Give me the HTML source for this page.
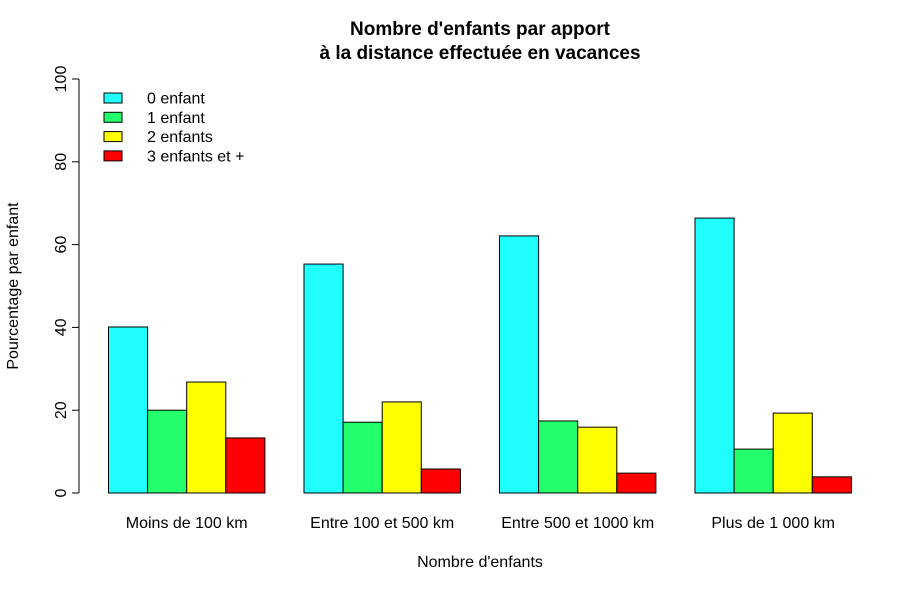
<!DOCTYPE html>
<html><head><meta charset="utf-8"><style>
body{margin:0;background:#fff}
svg{font-family:"Liberation Sans",Arial,sans-serif}
</style></head><body>
<svg id="chart" width="922" height="591" xmlns="http://www.w3.org/2000/svg">
<text x="480" y="35" text-anchor="middle" font-size="19" font-weight="bold">Nombre d'enfants par apport</text>
<text x="480" y="59" text-anchor="middle" font-size="19" font-weight="bold">à la distance effectuée en vacances</text>
<text x="480" y="567" text-anchor="middle" font-size="16">Nombre d'enfants</text>
<text transform="translate(18,286) rotate(-90)" text-anchor="middle" font-size="16">Pourcentage par enfant</text>
<g id="axis"></g>
<g id="bars"></g>
<g id="xlabels"></g>
<g id="legend"></g>
</svg>
<script>
const categories=["Moins de 100 km","Entre 100 et 500 km","Entre 500 et 1000 km","Plus de 1 000 km"];
const seriesNames=["0 enfant","1 enfant","2 enfants","3 enfants et +"];
const s0=[40.1,55.3,62.1,66.4];
const s1=[20.0,17.1,17.4,10.6];
const s2=[26.8,22.0,15.9,19.3];
const s3=[13.3,5.8,4.8,3.9];
const yTicks=[0,20,40,60,80,100];
const series=[s0,s1,s2,s3];
const colors=["#1fffff","#22ff6a","#ffff00","#ff0000"];
const NS="http://www.w3.org/2000/svg";
const y0=493,y100=79,bw=39.1,x0=108.5;
const yS=v=>y0-(y0-y100)*v/100;
function mk(t,a,p){const e=document.createElementNS(NS,t);for(const k in a)e.setAttribute(k,a[k]);p.appendChild(e);return e;}
const ax=document.getElementById('axis');
mk('line',{x1:79,x2:79,y1:yS(0),y2:yS(100),stroke:'#000'},ax);
yTicks.forEach(v=>{mk('line',{x1:72,x2:79,y1:yS(v),y2:yS(v),stroke:'#000'},ax);
const t=mk('text',{transform:`translate(66,${yS(v)}) rotate(-90)`,'text-anchor':'middle','font-size':16},ax);t.textContent=v;

});
const bg=document.getElementById('bars'),xl=document.getElementById('xlabels');
categories.forEach((c,i)=>{const gx=x0+i*5*bw;
series.forEach((s,j)=>{const r=mk('rect',{x:gx+j*bw,y:yS(s[i]),width:bw,height:yS(0)-yS(s[i]),fill:colors[j],stroke:'#000','stroke-width':1},bg);

});
const t=mk('text',{x:gx+2*bw,y:528,'text-anchor':'middle','font-size':16},xl);t.textContent=c;

});
const lg=document.getElementById('legend');
seriesNames.forEach((n,j)=>{const yy=98+j*19.3;
const r=mk('rect',{x:104,y:yy-5,width:18,height:10,fill:colors[j],stroke:'#000'},lg);


const t=mk('text',{x:147,y:yy+5.5,'font-size':16},lg);t.textContent=n;

});
</script>
</body></html>
